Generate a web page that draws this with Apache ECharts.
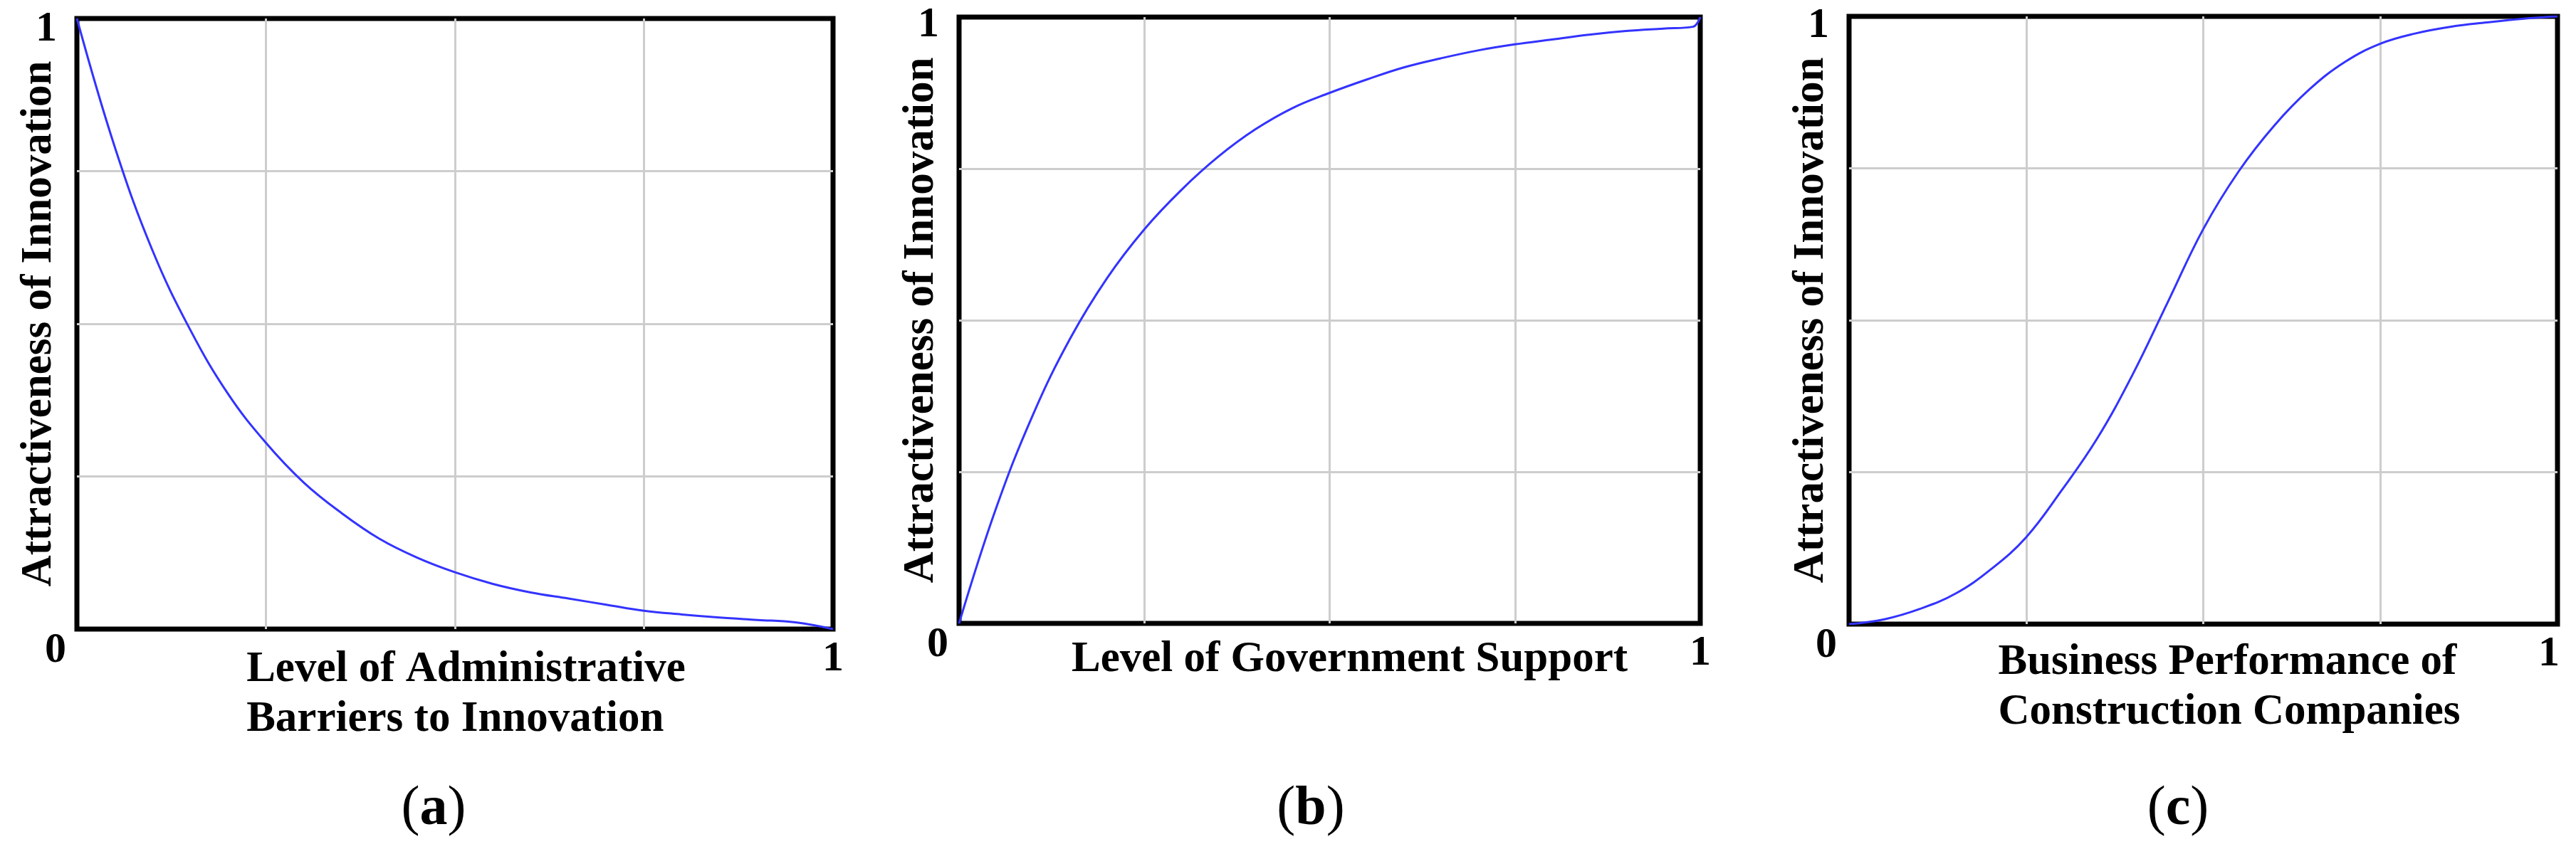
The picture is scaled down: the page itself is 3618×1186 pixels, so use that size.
<!DOCTYPE html>
<html>
<head>
<meta charset="utf-8">
<title>Attractiveness of Innovation</title>
<script src="https://cdn.jsdelivr.net/npm/echarts@6/dist/echarts.min.js"></script>
<style>
  html, body { margin: 0; padding: 0; background: #fff; }
  #chart { width: 3618px; height: 1186px; }
</style>
</head>
<body>
<div id="chart"></div>
<script>
  // x positions (same for every panel)
  const xSteps = [0, 0.05, 0.1, 0.15, 0.2, 0.25, 0.3, 0.35, 0.4, 0.45, 0.5,
    0.55, 0.6, 0.65, 0.7, 0.75, 0.8, 0.85, 0.9, 0.95, 1]

  // (a) administrative barriers
  const barrierValues = [1, 0.79, 0.62, 0.49, 0.385, 0.305, 0.24, 0.19, 0.148, 0.117, 0.093,
    0.074, 0.06, 0.05, 0.04, 0.03, 0.024, 0.019, 0.015, 0.011, 0]

  // (b) government support, with the small step up at the right edge
  const supportSteps = [0, 0.05, 0.1, 0.15, 0.2, 0.25, 0.3, 0.35, 0.4, 0.45, 0.5,
    0.55, 0.6, 0.65, 0.7, 0.75, 0.8, 0.85, 0.9, 0.95, 0.99, 1]
  const supportValues = [0, 0.19, 0.345, 0.47, 0.57, 0.65, 0.715, 0.77, 0.815, 0.85, 0.875,
    0.897, 0.917, 0.932, 0.945, 0.955, 0.963, 0.971, 0.977, 0.981, 0.984, 1]

  // (c) business performance
  const performanceValues = [0, 0.008, 0.025, 0.05, 0.09, 0.143, 0.22, 0.305, 0.41, 0.53, 0.65,
    0.745, 0.82, 0.88, 0.925, 0.955, 0.972, 0.983, 0.99, 0.996, 1]

  const yTitle = 'Attractiveness of Innovation'
  const xTitles = [
    ['Level of Administrative', 'Barriers to Innovation'],
    ['Level of Government Support'],
    ['Business Performance of', 'Construction Companies']
  ]
  const captions = ['a', 'b', 'c']

  const FONT = 'Liberation Serif'

  const grids = [
    {left: 108, top: 26, width: 1062, height: 858},
    {left: 1347, top: 24, width: 1041, height: 852},
    {left: 2597, top: 23, width: 995, height: 854}
  ]
  const xNameGap = [22, 16, 19]
  const xNameShift = [31, 56, 73]
  const zeroPad = [60, 60, 64]
  const zeroLift = [0, 9, 0]
  const onePad = [0, 0, 24]
  const yOnePad = [30, 22, 26]
  const captionX = [604, 1836, 3054]

  const pairs = (xs, ys) => xs.map((x, i) => [x, ys[i]])
  const seriesData = [
    pairs(xSteps, barrierValues),
    pairs(supportSteps, supportValues),
    pairs(xSteps, performanceValues)
  ]

  const chart = echarts.init(document.getElementById('chart'))

  const option = {
    animation: false,
    backgroundColor: '#fff',
    title: captions.map((c, i) => ({
      text: '({b|' + c + '})',
      left: captionX[i],
      top: 1094,
      textAlign: 'center',
      textStyle: {
        fontFamily: FONT,
        fontSize: 78,
        fontWeight: 'normal',
        color: '#000',
        rich: {
          b: {fontFamily: FONT, fontSize: 78, fontWeight: 'bold', color: '#000'}
        }
      }
    })),
    grid: grids.map(g => Object.assign({
      show: true,
      borderColor: '#000',
      borderWidth: 7,
      backgroundColor: '#fff',
      containLabel: false,
      outerBoundsMode: 'none'
    }, g)),
    xAxis: grids.map((g, i) => ({
      type: 'value',
      gridIndex: i,
      min: 0,
      max: 1,
      interval: 0.25,
      axisLine: {show: false},
      axisTick: {show: false},
      splitLine: {show: true, showMinLine: false, showMaxLine: false, lineStyle: {color: '#cdcdcd', width: 3}},
      axisLabel: {
        margin: 0,
        showMinLabel: true,
        showMaxLabel: true,
        formatter: v => v === 0 ? '{z|0}' : (v === 1 ? '{o|1}' : ''),
        rich: {
          z: {fontFamily: FONT, fontSize: 60, fontWeight: 'bold', color: '#000', padding: [0, zeroPad[i], zeroLift[i], 0]},
          o: {fontFamily: FONT, fontSize: 60, fontWeight: 'bold', color: '#000', padding: [12, onePad[i], 0, 0]}
        }
      },
      name: xTitles[i].map(t => '{l|' + t + '}').join('\n'),
      nameLocation: 'middle',
      nameGap: xNameGap[i],
      nameMoveOverlap: false,
      nameTextStyle: {
        padding: [0, 0, 0, xNameShift[i]],
        rich: {
          l: {fontFamily: FONT, fontSize: 61, fontWeight: 'bold', color: '#000', lineHeight: 70, align: 'left'}
        }
      }
    })),
    yAxis: grids.map((g, i) => ({
      type: 'value',
      gridIndex: i,
      min: 0,
      max: 1,
      interval: 0.25,
      axisLine: {show: false},
      axisTick: {show: false},
      splitLine: {show: true, showMinLine: false, showMaxLine: false, lineStyle: {color: '#cdcdcd', width: 3}},
      axisLabel: {
        margin: 28,
        showMaxLabel: true,
        formatter: v => v === 1 ? '{o|1}' : '',
        rich: {
          o: {fontFamily: FONT, fontSize: 60, fontWeight: 'bold', color: '#000', padding: [yOnePad[i], 0, 0, 0]}
        }
      },
      name: yTitle,
      nameLocation: 'middle',
      nameRotate: 90,
      nameGap: 22,
      nameMoveOverlap: false,
      nameTextStyle: {
        fontFamily: FONT,
        fontSize: 61,
        lineHeight: 61,
        fontWeight: 'bold',
        color: '#000'
      }
    })),
    series: seriesData.map((d, i) => ({
      type: 'line',
      xAxisIndex: i,
      yAxisIndex: i,
      data: d,
      showSymbol: false,
      smooth: 0.4,
      lineStyle: {color: '#3333ff', width: 3},
      z: 3
    }))
  }

  chart.setOption(option)
</script>
</body>
</html>
